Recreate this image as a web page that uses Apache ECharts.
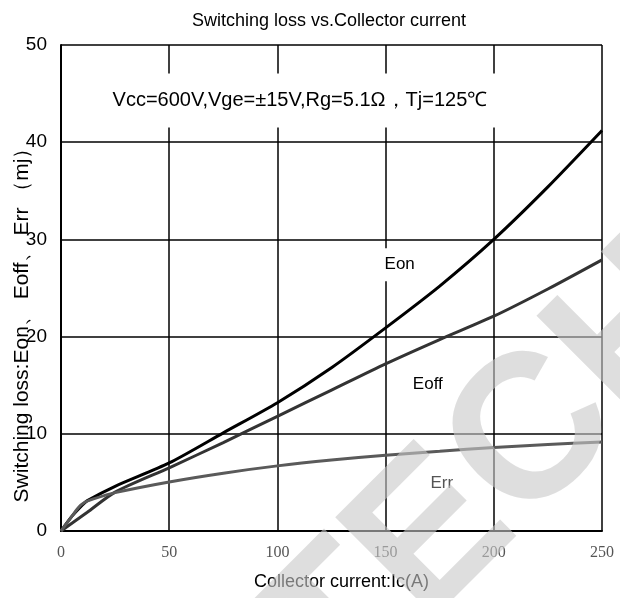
<!DOCTYPE html>
<html>
<head>
<meta charset="utf-8">
<script src="https://cdn.jsdelivr.net/npm/echarts@6/dist/echarts.min.js"></script>
<style>
  html, body { margin: 0; padding: 0; background: #fff; }
  #chart { width: 620px; height: 598px; }
</style>
</head>
<body>
<div id="chart"></div>
<script>
// values: [Ic (A), loss (mJ)]
var eonData = [[0, 0], [5, 1.5], [10, 2.7], [12, 3.1], [25, 4.6], [50, 7.0], [75, 10.1], [100, 13.2],
  [125, 16.8], [150, 20.9], [175, 25.2], [200, 30.0], [225, 35.4], [250, 41.2]];
var eoffData = [[0, 0], [12, 1.9], [25, 4.0], [50, 6.5], [75, 9.1], [100, 11.8], [125, 14.5],
  [150, 17.2], [175, 19.7], [200, 22.1], [225, 24.9], [250, 27.9]];
var errData = [[0, 0], [4, 1.2], [8, 2.4], [11, 2.95], [15, 3.3], [25, 3.95], [50, 5.05], [75, 5.95],
  [100, 6.7], [125, 7.3], [150, 7.8], [175, 8.2], [200, 8.6], [225, 8.9], [250, 9.15]];

var xTicks = [0, 50, 100, 150, 200, 250];
var yTicks = [0, 10, 20, 30, 40, 50];

// curve names and where they are written on the plot
var curveLabels = [
  { name: 'Eon', coord: [156.5, 27.4], color: '#000' },
  { name: 'Eoff', coord: [169.5, 15.1], color: '#000' },
  { name: 'Err', coord: [176, 4.9], color: '#555' }
];
var condText = 'Vcc=600V,Vge=\u00b115V,Rg=5.1\u03a9\uff0cTj=125\u2103';
var condCoord = [110.4, 44.3];

var sans = 'Liberation Sans, Arial, sans-serif';
var chart = echarts.init(document.getElementById('chart'));

var gridLine = { show: true, lineStyle: { color: '#000', width: 1.5 } };

function lineSeries(name, data, color, marks) {
  return {
    name: name,
    type: 'line',
    data: data,
    smooth: 0.25,
    showSymbol: false,
    lineStyle: { color: color, width: 3 },
    z: 3,
    markPoint: marks
  };
}

function textMark(coord, text, color, size, pad) {
  return {
    coord: coord,
    symbol: 'rect',
    symbolSize: 1,
    itemStyle: { color: 'rgba(0,0,0,0)' },
    label: {
      show: true, position: 'inside', formatter: text,
      color: color, fontFamily: sans, fontSize: size,
      backgroundColor: '#fff', padding: pad
    }
  };
}

var labelMarks = {
  silent: true,
  animation: false,
  data: curveLabels.map(function (c) {
    return textMark(c.coord, c.name, c.color, 17, [8, 2, 8, 2]);
  }).concat([textMark(condCoord, condText, '#000', 20, [17, 14, 17, 14])])
};

chart.setOption({
  animation: false,
  backgroundColor: '#fff',
  title: {
    text: 'Switching loss vs.Collector current',
    left: 324, top: 7, textAlign: 'center',
    textStyle: { fontFamily: sans, fontSize: 18, fontWeight: 'normal', color: '#000' }
  },
  grid: { left: 61, right: 18, top: 45, bottom: 67, outerBoundsMode: 'none', containLabel: false },
  xAxis: {
    type: 'value', min: 0, max: 250, interval: 50,
    name: 'Collector current:Ic(A)',
    nameLocation: 'middle', nameGap: 42, nameMoveOverlap: false,
    nameTextStyle: { fontFamily: sans, fontSize: 18, color: '#000', padding: [0, 0, 0, 20] },
    axisLine: { show: true, lineStyle: { color: '#000', width: 2 } },
    axisTick: { show: false },
    axisLabel: {
      margin: 14, fontFamily: 'Liberation Serif, serif', fontSize: 16, color: '#555',
      formatter: function (v) { return xTicks.indexOf(v) >= 0 ? String(v) : ''; }
    },
    splitLine: gridLine
  },
  yAxis: {
    type: 'value', min: 0, max: 50, interval: 10,
    name: 'Switching loss:Eon\u3001 Eoff\u3001 Err \uff08mj\uff09',
    nameLocation: 'middle', nameGap: 28, nameMoveOverlap: false,
    nameTextStyle: { fontFamily: sans, fontSize: 21, color: '#000', padding: [0, 64, 0, 0] },
    axisLine: { show: true, lineStyle: { color: '#000', width: 2 } },
    axisTick: { show: false },
    axisLabel: {
      margin: 14, fontFamily: sans, fontSize: 19, color: '#000',
      formatter: function (v) { return yTicks.indexOf(v) >= 0 ? String(v) : ''; }
    },
    splitLine: gridLine
  },
  series: [
    lineSeries('Eon', eonData, '#000'),
    lineSeries('Eoff', eoffData, '#333'),
    lineSeries('Err', errData, '#5a5a5a', labelMarks)
  ],
  graphic: [{
    type: 'text',
    x: 494, y: 478,
    rotation: Math.PI / 4,
    z: 100,
    silent: true,
    style: {
      text: 'TECH',
      fontFamily: sans, fontSize: 205, fontWeight: 'bold',
      fill: 'rgb(200,200,200)', opacity: 0.6,
      align: 'center', verticalAlign: 'middle'
    }
  }]
});
</script>
</body>
</html>
